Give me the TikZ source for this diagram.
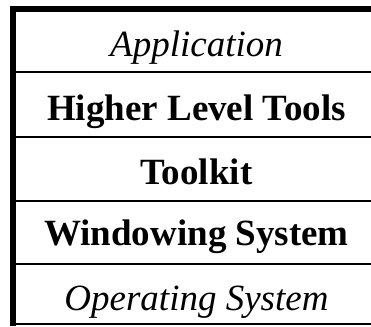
\documentclass[tikz,border=0pt]{standalone}
\usepackage{fontspec}
\setmainfont{Liberation Serif}
\begin{document}
\begin{tikzpicture}[x=1pt,y=-1pt,
  layer/.style={anchor=base,inner sep=0pt,font=\fontsize{37}{40}\selectfont},
  plain/.style={layer,font=\fontsize{37}{40}\selectfont\itshape},
  strong/.style={layer,font=\fontsize{37}{40}\selectfont\bfseries},
  thickrule/.style={line width=6pt},
  thinrule/.style={line width=2pt}]
\useasboundingbox (0,0) rectangle (371,326);
% frame: heavy top and left edges, open on the right
\coordinate (tl) at (10,9);
\coordinate (tr) at (371,9);
\coordinate (lt) at (13,6);
\coordinate (lb) at (13,326);
\draw[thickrule] (tl) -- (tr);
\draw[thickrule] (lt) -- (lb);
% rules between layers
\foreach \y/\n in {72.5/a,136.5/b,200.5/c,264/d,323.5/e}{
  \coordinate (\n l) at (16,\y);
  \coordinate (\n r) at (371,\y);
  \draw[thinrule] (\n l) -- (\n r);
}
% layer labels
\node[plain]  (app)  at (196.5,57)  {Application};
\node[strong] (hlt)  at (196.5,120) {Higher Level Tools};
\node[strong] (tk)   at (196.5,184) {Toolkit};
\node[strong] (win)  at (196.5,245) {Windowing System};
\node[plain]  (os)   at (196.5,310) {Operating System};
\end{tikzpicture}
\end{document}
